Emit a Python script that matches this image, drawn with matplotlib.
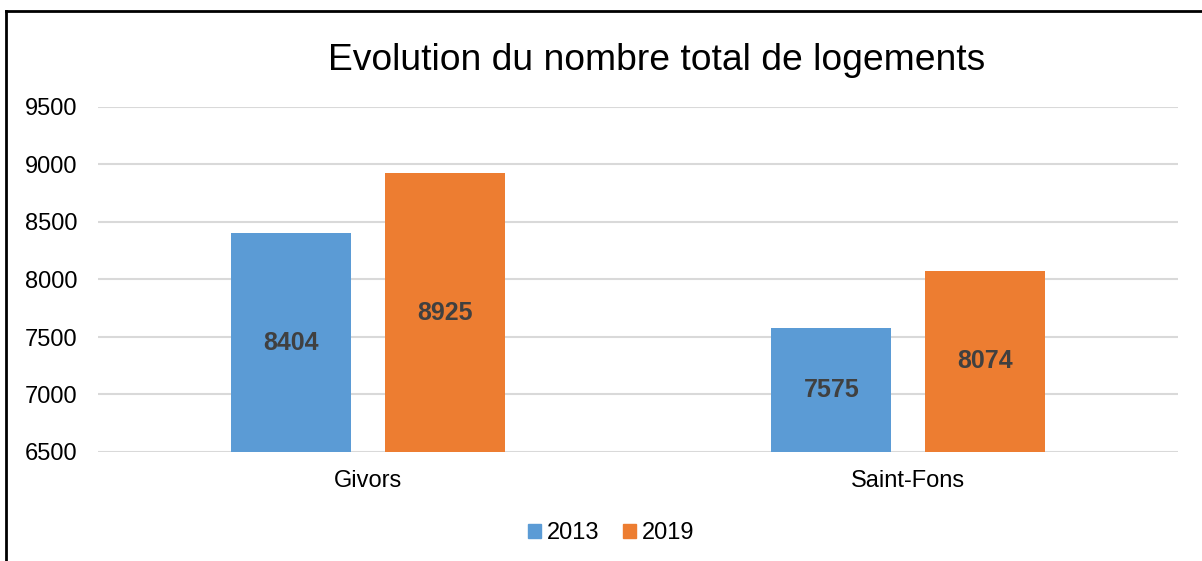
import matplotlib
matplotlib.use("Agg")
import matplotlib.pyplot as plt
import numpy as np

plt.rcParams['font.family'] = ['Liberation Sans', 'DejaVu Sans']

categories = ["Givors", "Saint-Fons"]
series_names = ["2013", "2019"]
values_2013 = [8404, 7575]
values_2019 = [8925, 8074]
colors = ["#5B9BD5", "#ED7D31"]
yticks = [6500, 7000, 7500, 8000, 8500, 9000, 9500]

fig = plt.figure(figsize=(12.02, 5.61), dpi=100)
ax = fig.add_axes([98/1202, 1-452/561, (1178-98)/1202, (452-107)/561])

x = np.arange(len(categories))
w = 0.222
off = 0.142
base = 6500
for vals, name, c, o in [(values_2013, series_names[0], colors[0], -off),
                         (values_2019, series_names[1], colors[1], off)]:
    ax.bar(x + o, np.array(vals) - base, w, bottom=base, color=c, label=name, zorder=3)
    for xi, v in zip(x + o, vals):
        ax.text(xi, (v + base) / 2, str(v), ha='center', va='center',
                fontsize=18, fontweight='bold', color='#404040', zorder=4)

ax.set_xlim(-0.5, 1.5)
ax.set_ylim(6500, 9500)
ax.set_yticks(yticks)
ax.set_yticklabels([str(t) for t in yticks], fontsize=17)
ax.set_xticks(x)
ax.set_xticklabels(categories, fontsize=17)
ax.tick_params(axis='both', length=0, colors='black')
ax.tick_params(axis='y', pad=15)
ax.tick_params(axis='x', pad=13)
ax.grid(axis='y', color='#D9D9D9', linewidth=1.5, zorder=0)
for s in ax.spines.values():
    s.set_visible(False)

fig.text(657/1202, 1-60/561, "Evolution du nombre total de logements",
         ha='center', va='center', fontsize=26.8)

handles = [plt.Rectangle((0, 0), 1, 1, color=c) for c in colors]
fig.legend(handles, series_names, loc='center', bbox_to_anchor=(611/1202, 1-533/561),
           ncol=2, frameon=False, fontsize=17, handlelength=0.55, handleheight=0.55,
           handletextpad=0.25, columnspacing=1.0)

# outer border (top and left visible)
fig.add_artist(plt.Line2D([6/1202, 6/1202], [0, 1-11/561], color='black', linewidth=2, transform=fig.transFigure))
fig.add_artist(plt.Line2D([6/1202, 1], [1-11/561, 1-11/561], color='black', linewidth=2, transform=fig.transFigure))

fig.savefig("out.png", dpi=100)
